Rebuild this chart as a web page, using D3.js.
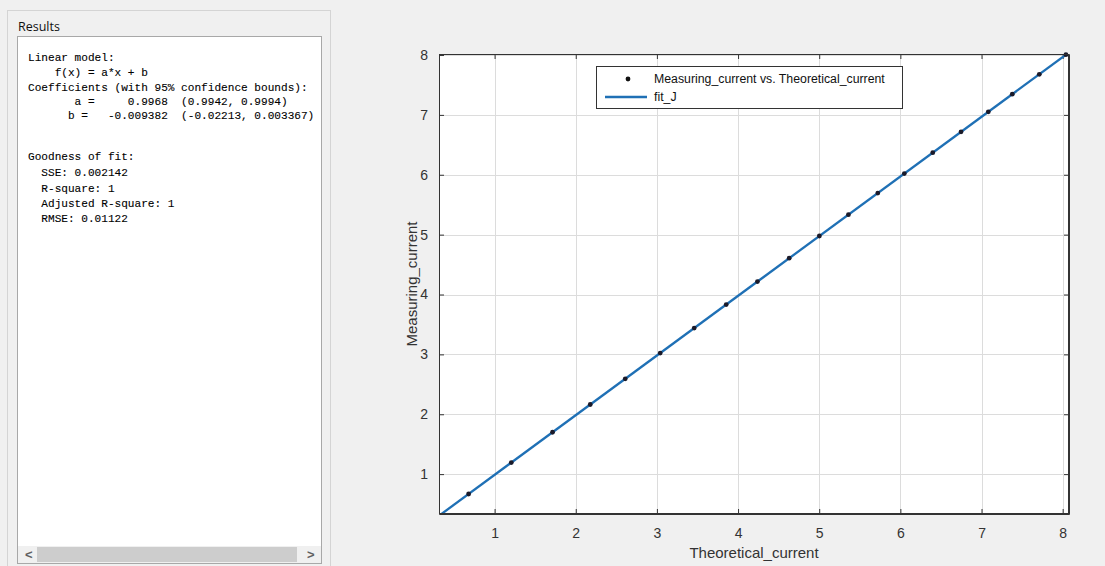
<!DOCTYPE html>
<html><head><meta charset="utf-8">
<script src="https://cdn.jsdelivr.net/npm/d3@7"></script>
<style>
html,body{margin:0;padding:0;background:#f0f0f0;}
svg{display:block;}
</style></head>
<body>
<script>
// ---- data ----
const theoreticalCurrent = [0.680,1.206,1.714,2.179,2.610,3.041,3.460,3.854,4.239,4.630,5.002,5.360,5.722,6.049,6.399,6.748,7.084,7.379,7.712,8.040];
const measuringCurrent   = [0.668,1.193,1.699,2.163,2.592,3.022,3.440,3.832,4.216,4.606,4.977,5.333,5.694,6.020,6.369,6.717,7.052,7.346,7.678,8.005];
const fitA = 0.9968, fitB = -0.009382;
const xTicks = [1,2,3,4,5,6,7,8];
const yTicks = [1,2,3,4,5,6,7,8];
const xDomain = [0.315, 8.078];
const yDomain = [0.334, 8.017];
const legendLabels = ["Measuring_current vs. Theoretical_current", "fit_J"];
const xLabel = "Theoretical_current", yLabel = "Measuring_current";
const resultsLines = [
 "Linear model:",
 "    f(x) = a*x + b",
 "Coefficients (with 95% confidence bounds):",
 "       a =     0.9968  (0.9942, 0.9994)",
 "      b =   -0.009382  (-0.02213, 0.003367)",
 "",
 "Goodness of fit:",
 "  SSE: 0.002142",
 "  R-square: 1",
 "  Adjusted R-square: 1",
 "  RMSE: 0.01122"
];

const W = 1105, H = 566;
const svg = d3.select("body").append("svg").attr("width", W).attr("height", H);
svg.append("rect").attr("width", W).attr("height", H).attr("fill", "#f0f0f0");

// ---- left results panel ----
svg.append("rect").attr("x", 7.5).attr("y", 10.5).attr("width", 323).attr("height", 560)
  .attr("fill", "#f0f0f0").attr("stroke", "#d4d4d4");
svg.append("text").attr("x", 18).attr("y", 31).text("Results")
  .attr("font-family", "'Open Sans', 'Noto Sans', sans-serif").attr("font-size", 12.5).attr("fill", "#111");
svg.append("rect").attr("x", 17.5).attr("y", 36.5).attr("width", 304).attr("height", 527)
  .attr("fill", "#fff").attr("stroke", "#a8a8a8");
const lineYs = [57, 72, 87, 101, 115, 0, 156, 172, 188, 203, 218];
const rt = svg.append("g").attr("font-family", "'Liberation Mono', 'DejaVu Sans Mono', monospace")
  .attr("font-size", 11.1).attr("fill", "#000");
resultsLines.forEach((s, i) => {
  if (!s) return;
  rt.append("text").attr("x", 28).attr("y", lineYs[i] + 4).attr("xml:space", "preserve")
    .style("white-space", "pre").attr("stroke", "#000").attr("stroke-width", 0.1).text(s);
});
// scrollbar
svg.append("rect").attr("x", 18).attr("y", 546).attr("width", 303).attr("height", 17).attr("fill", "#f0f0f0");
svg.append("rect").attr("x", 37).attr("y", 547).attr("width", 260).attr("height", 15).attr("fill", "#cdcdcd");
svg.append("text").attr("x", 25).attr("y", 559).text("<").attr("font-family","Liberation Sans, sans-serif")
  .attr("font-size", 13).attr("font-weight", "bold").attr("fill", "#606060");
svg.append("text").attr("x", 307).attr("y", 559).text(">").attr("font-family","Liberation Sans, sans-serif")
  .attr("font-size", 13).attr("font-weight", "bold").attr("fill", "#606060");

// ---- chart ----
const L = 439, R = 1069, T = 54, B = 514;
const x = d3.scaleLinear().domain(xDomain).range([L, R]);
const y = d3.scaleLinear().domain(yDomain).range([B, T]);

svg.append("rect").attr("x", L).attr("y", T).attr("width", R - L).attr("height", B - T).attr("fill", "#fff");

// grid
const grid = svg.append("g").attr("stroke", "#dcdcdc").attr("stroke-width", 1);
xTicks.forEach(t => grid.append("line").attr("x1", Math.round(x(t)) + 0.5).attr("x2", Math.round(x(t)) + 0.5).attr("y1", T).attr("y2", B));
yTicks.forEach(t => grid.append("line").attr("y1", Math.round(y(t)) + 0.5).attr("y2", Math.round(y(t)) + 0.5).attr("x1", L).attr("x2", R));

// axes
const fontAx = "'Liberation Sans', Arial, sans-serif";
const axB = svg.append("g").attr("transform", `translate(0,${B})`)
  .call(d3.axisBottom(x).tickValues(xTicks).tickSizeInner(-5).tickSizeOuter(0).tickPadding(14).tickFormat(d3.format("d")));
const axT = svg.append("g").attr("transform", `translate(0,${T})`)
  .call(d3.axisTop(x).tickValues(xTicks).tickSizeInner(-5).tickSizeOuter(0).tickFormat(""));
const axL = svg.append("g").attr("transform", `translate(${L},0)`)
  .call(d3.axisLeft(y).tickValues(yTicks).tickSizeInner(-5).tickSizeOuter(0).tickPadding(11).tickFormat(d3.format("d")));
const axR = svg.append("g").attr("transform", `translate(${R},0)`)
  .call(d3.axisRight(y).tickValues(yTicks).tickSizeInner(-5).tickSizeOuter(0).tickFormat(""));
[axB, axT, axL, axR].forEach(g => {
  g.selectAll("path.domain").attr("stroke", "#333");
  g.selectAll("line").attr("stroke", "#333");
  g.selectAll("text").attr("fill", "#333").attr("font-family", fontAx).attr("font-size", 14);
});

// fit line (clipped)
svg.append("clipPath").attr("id", "clip").append("rect").attr("x", L).attr("y", T).attr("width", R - L).attr("height", B - T);
const fitLine = xDomain.map(v => [v, fitA * v + fitB]);
svg.append("path").datum(fitLine).attr("clip-path", "url(#clip)")
  .attr("d", d3.line().x(d => x(d[0])).y(d => y(d[1])))
  .attr("stroke", "#1f70b5").attr("stroke-width", 2.3).attr("fill", "none");

// points
svg.append("g").selectAll("circle").data(theoreticalCurrent.map((v, i) => [v, measuringCurrent[i]]))
  .join("circle").attr("cx", d => x(d[0])).attr("cy", d => y(d[1])).attr("r", 2.4).attr("fill", "#1a1a2a");

// box border on top
svg.append("rect").attr("x", L + 0.5).attr("y", T + 0.5).attr("width", R - L - 1).attr("height", B - T - 1)
  .attr("fill", "none").attr("stroke", "#333");

// labels
svg.append("text").attr("x", (L + R) / 2).attr("y", 558).attr("text-anchor", "middle").text(xLabel)
  .attr("font-family", fontAx).attr("font-size", 15).attr("fill", "#333");
svg.append("text").attr("transform", `translate(417,${(T + B) / 2}) rotate(-90)`).attr("text-anchor", "middle").text(yLabel)
  .attr("font-family", fontAx).attr("font-size", 15).attr("fill", "#333");

// legend
const lg = svg.append("g");
lg.append("rect").attr("x", 596.5).attr("y", 66.5).attr("width", 306).attr("height", 42)
  .attr("fill", "#fff").attr("stroke", "#333");
lg.append("circle").attr("cx", 628).attr("cy", 79).attr("r", 2.4).attr("fill", "#111");
lg.append("line").attr("x1", 605).attr("x2", 647).attr("y1", 97).attr("y2", 97).attr("stroke", "#1f70b5").attr("stroke-width", 2.3);
lg.append("text").attr("x", 654).attr("y", 83).text(legendLabels[0]).attr("font-family", fontAx).attr("font-size", 12.3).attr("fill", "#111");
lg.append("text").attr("x", 654).attr("y", 101).text(legendLabels[1]).attr("font-family", fontAx).attr("font-size", 12.3).attr("fill", "#111");
</script>
</body></html>
